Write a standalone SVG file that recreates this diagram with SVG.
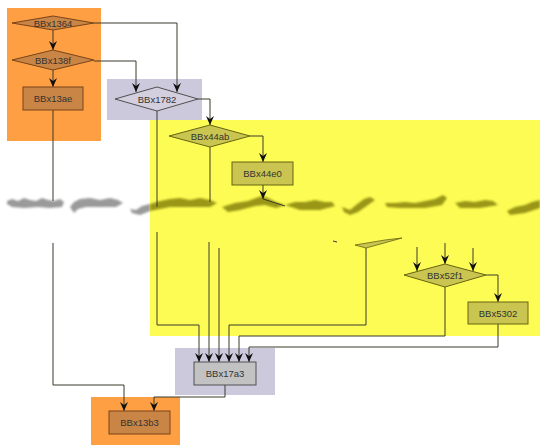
<svg xmlns="http://www.w3.org/2000/svg" width="540" height="445" viewBox="0 0 540 445">
<defs>
<marker id="ah" markerWidth="9" markerHeight="8" refX="9" refY="4" orient="auto" markerUnits="userSpaceOnUse" viewBox="0 0 9 8">
<path d="M0,0 L9,4 L0,8 L3,4 Z" fill="#111"/>
</marker>
<filter id="soft" x="-5%" y="-50%" width="110%" height="200%"><feGaussianBlur stdDeviation="0.9"/></filter>
</defs>
<style>
.grp-or{fill:#fd9f42}
.grp-lv{fill:#cdc9dd}
.grp-ye{fill:#fdfc55}
.n-or{fill:#c98546;stroke:#7a4418;stroke-width:1}
.n-lv{fill:#d3cfdf;stroke:#505050;stroke-width:1}
.n-gr{fill:#c2c2c2;stroke:#505050;stroke-width:1}
.n-ol{fill:#c9c550;stroke:#66640f;stroke-width:1}
text{font-family:"Liberation Sans",Arial,sans-serif;font-size:9.5px;fill:#333;text-anchor:middle;dominant-baseline:central}
.e{fill:none;stroke:#3a3a2a;stroke-width:1}
.ea{fill:none;stroke:#3a3a2a;stroke-width:1;marker-end:url(#ah)}
.tg{fill:#9a9a9a;filter:url(#soft)}
.to{fill:#9a9614;filter:url(#soft)}
</style>

<g id="groups">
<rect class="grp-or" x="7" y="8" width="94" height="133"/>
<rect class="grp-lv" x="107" y="79" width="95" height="41"/>
<rect class="grp-ye" x="150" y="120" width="390" height="216"/>
<rect class="grp-lv" x="175" y="348" width="100" height="47"/>
<rect class="grp-or" x="91" y="397" width="89" height="48"/>
</g>

<g id="tear">
<path class="tg" d="M7,201 L12,199 L18,201 L24,198 L30,200 L36,201 L42,198 L48,200 L54,201 L60,199 L64,202 L62,207 L50,208 L38,207 L24,208 L12,207 L7,204 Z"/>
<path class="tg" d="M70,207 L74,202 L80,199 L90,198 L100,200 L110,198 L118,200 L123,203 L116,207 L100,207 L86,207 L78,209 L74,213 Z"/>
<path class="tg" d="M130,209 L136,210 L142,206 L150,204 L150,211 L140,215 L132,213 Z"/>
<path class="to" d="M150,204 L160,201 L170,199 L180,198 L190,200 L200,198 L210,200 L217,203 L210,207 L190,207 L170,207 L150,211 Z"/>
<path class="to" d="M222,207 L235,203 L248,201 L256,198 L262,196 L268,198 L276,202 L285,205 L276,208 L265,205 L255,206 L240,210 L228,212 Z"/>
<path class="to" d="M285,205 L295,202 L305,202 L315,200 L325,202 L332,202 L335,206 L320,210 L300,210 Z"/>
<path class="to" d="M342,207 L350,210 L356,205 L364,199 L370,197 L375,200 L368,205 L358,212 L350,215 L344,212 Z"/>
<path class="to" d="M385,203 L395,203 L405,202 L415,203 L425,201 L435,199 L443,195 L447,198 L442,205 L425,208 L400,208 L387,207 Z"/>
<path class="to" d="M455,203 L465,201 L475,202 L485,200 L493,201 L498,205 L480,208 L460,208 Z"/>
<path class="to" d="M507,211 L515,207 L525,205 L532,202 L540,200 L540,208 L525,213 L510,215 Z"/>
<path d="M355,245 L366,248 L402,238 L385,240 Z" fill="#c9c550" stroke="#66640f" stroke-width="0.8"/>
<path d="M333,241 L337,242" stroke="#333" stroke-width="1"/>
</g>

<g id="connectors">
<path class="ea" d="M53,30 L53,50"/>
<path class="ea" d="M53,70 L53,87"/>
<path class="ea" d="M94,23 L177,23 L177,92"/>
<path class="ea" d="M94,61 L136,61 L136,92"/>
<path class="ea" d="M198,99 L210,99 L210,125"/>
<path class="ea" d="M250,136 L263,136 L263,162"/>
<path class="ea" d="M263,185 L263,199"/>
<path class="e" d="M263,199 L285,206"/>
<path class="e" d="M53,110 L53,201"/>
<path class="e" d="M157,111 L157,207"/>
<path class="e" d="M210,147 L210,202"/>
<path class="ea" d="M53,243 L53,385 L124,385 L124,411"/>
<path class="ea" d="M157,232 L157,325 L199,325 L199,362"/>
<path class="ea" d="M209,242 L209,362"/>
<path class="ea" d="M219,248 L219,362"/>
<path class="ea" d="M366,248 L366,325 L229,325 L229,362"/>
<path class="ea" d="M445,287 L445,336 L239,336 L239,362"/>
<path class="ea" d="M498,324 L498,347 L249,347 L249,362"/>
<path class="ea" d="M486,275 L498,275 L498,302"/>
<path class="ea" d="M417,247 L417,271"/>
<path class="ea" d="M445,243 L445,264"/>
<path class="ea" d="M473,248 L473,271"/>
<path class="ea" d="M225,385 L225,397 L154,397 L154,411"/>
</g>

<g id="BBx1364"><polygon class="n-or" points="12,23 53,16 94,23 53,30"/><text x="53" y="23">BBx1364</text></g>
<g id="BBx138f"><polygon class="n-or" points="12,60 53,50 94,60 53,70"/><text x="53" y="60">BBx138f</text></g>
<g id="BBx13ae"><rect class="n-or" x="23" y="87" width="60" height="23"/><text x="53" y="98.5">BBx13ae</text></g>
<g id="BBx1782"><polygon class="n-lv" points="115,99 157,87 198,99 157,111"/><text x="157" y="99">BBx1782</text></g>
<g id="BBx44ab"><polygon class="n-ol" points="169,136 210,125 250,136 210,147"/><text x="210" y="136">BBx44ab</text></g>
<g id="BBx44e0"><rect class="n-ol" x="232" y="162" width="61" height="23"/><text x="262.5" y="173.5">BBx44e0</text></g>
<g id="BBx52f1"><polygon class="n-ol" points="404,275 445,264 486,275 445,287"/><text x="445" y="275">BBx52f1</text></g>
<g id="BBx5302"><rect class="n-ol" x="468" y="302" width="60" height="22"/><text x="498" y="313">BBx5302</text></g>
<g id="BBx17a3"><rect class="n-gr" x="194" y="362" width="62" height="23"/><text x="225" y="373.5">BBx17a3</text></g>
<g id="BBx13b3"><rect class="n-or" x="109" y="411" width="61" height="23"/><text x="139.5" y="422.5">BBx13b3</text></g>
</svg>
